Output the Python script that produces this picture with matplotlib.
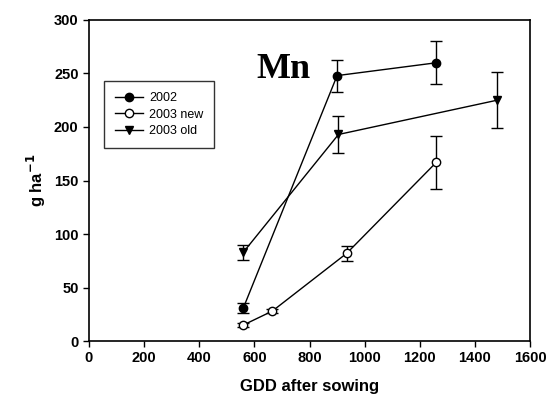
import matplotlib
matplotlib.use("Agg")
import matplotlib.pyplot as plt
from matplotlib.lines import Line2D

# ─── Data ────────────────────────────────────────────────────────────────────
gdd_2002 = [560, 900, 1260]
mn_2002 = [31, 248, 260]
err_2002 = [5, 15, 20]

gdd_2003_new = [560, 665, 935, 1260]
mn_2003_new = [15, 28, 82, 167]
err_2003_new = [2, 2, 7, 25]

gdd_2003_old = [560, 905, 1480]
mn_2003_old = [83, 193, 225]
err_2003_old = [7, 17, 26]

plt.rcParams["font.family"] = ["Liberation Sans", "DejaVu Sans"]

fig = plt.figure(figsize=(5.51, 4.07), dpi=100)
ax = fig.add_axes([0.1615, 0.162, 0.8005, 0.789])

common = dict(color="black", linewidth=1.0, markersize=6, capsize=4,
              elinewidth=1.0, capthick=1.0, markeredgecolor="black")
ax.errorbar(gdd_2002, mn_2002, yerr=err_2002, marker="o",
            markerfacecolor="black", **common)
ax.errorbar(gdd_2003_new, mn_2003_new, yerr=err_2003_new, marker="o",
            markerfacecolor="white", **common)
ax.errorbar(gdd_2003_old, mn_2003_old, yerr=err_2003_old, marker="v",
            markerfacecolor="black", **common)

ax.set_xlim(0, 1600)
ax.set_ylim(0, 300)
ax.set_xticks(range(0, 1601, 200))
ax.set_yticks(range(0, 301, 50))
ax.tick_params(direction="out", length=4, width=1, labelsize=10.5,
               top=False, right=False)
for lab in ax.get_xticklabels() + ax.get_yticklabels():
    lab.set_fontweight("bold")
for sp in ax.spines.values():
    sp.set_linewidth(1.2)

ax.set_xlabel("GDD after sowing", fontsize=12, fontweight="bold", labelpad=10)
ax.set_ylabel("g ha$^{\\mathbf{-1}}$", fontsize=12, fontweight="bold", labelpad=4)

ax.text(0.38, 0.845, "Mn", transform=ax.transAxes, fontsize=26,
        fontweight="bold", family="Liberation Serif", va="center", ha="left")

handles = [
    Line2D([], [], color="black", lw=1.0, marker="o", ms=6, mfc="black", mec="black"),
    Line2D([], [], color="black", lw=1.0, marker="o", ms=6, mfc="white", mec="black"),
    Line2D([], [], color="black", lw=1.0, marker="v", ms=6, mfc="black", mec="black"),
]
leg = ax.legend(handles, ["2002", "2003 new", "2003 old"],
                loc="upper left", bbox_to_anchor=(0.034, 0.81), fontsize=9,
                frameon=True, fancybox=False, edgecolor="black",
                handlelength=2.2, borderpad=0.9, labelspacing=0.35,
                handletextpad=0.5, borderaxespad=0)
leg.get_frame().set_linewidth(1.0)

fig.savefig("out.png", dpi=100)
